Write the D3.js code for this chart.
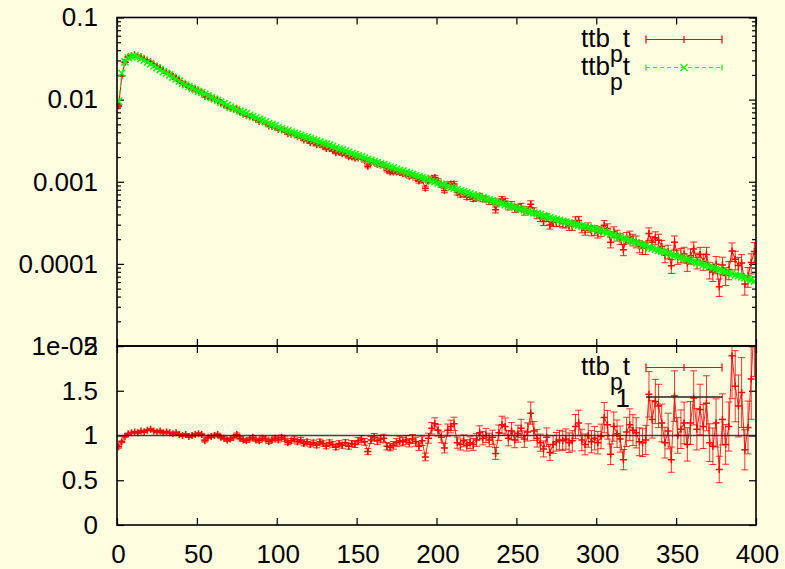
<!DOCTYPE html>
<html><head><meta charset="utf-8">
<script src="https://cdn.jsdelivr.net/npm/d3@7/dist/d3.min.js"></script>
<style>
body{margin:0;background:#fffde0;}
svg{display:block;}
text{font-family:"Liberation Sans",Arial,Helvetica,sans-serif;}
</style>
</head><body>
<svg id="chart" width="785" height="569"></svg>
<script>
// ---------------- data ----------------
const binCenters = [
1,3,5,7,9,11,13,15,17,19,21,23,25,27,29,31,33,35,37,39,
41,43,45,47,49,51,53,55,57,59,61,63,65,67,69,71,73,75,77,79,
81,83,85,87,89,91,93,95,97,99,101,103,105,107,109,111,113,115,117,119,
121,123,125,127,129,131,133,135,137,139,141,143,145,147,149,151,153,155,157,159,
161,163,165,167,169,171,173,175,177,179,181,183,185,187,189,191,193,195,197,199,
201,203,205,207,209,211,213,215,217,219,221,223,225,227,229,231,233,235,237,239,
241,243,245,247,249,251,253,255,257,259,261,263,265,267,269,271,273,275,277,279,
281,283,285,287,289,291,293,295,297,299,301,303,305,307,309,311,313,315,317,319,
321,323,325,327,329,331,333,335,337,339,341,343,345,347,349,351,353,355,357,359,
361,363,365,367,369,371,373,375,377,379,381,383,385,387,389,391,393,395,397,399];

// second ttb_pt series (green), per bin
const greenValues = [
9.55e-3,2.09e-2,2.88e-2,3.24e-2,3.35e-2,3.39e-2,3.31e-2,3.16e-2,3.02e-2,2.85e-2,
2.72e-2,2.57e-2,2.45e-2,2.32e-2,2.19e-2,2.09e-2,2.00e-2,1.88e-2,1.78e-2,1.68e-2,
1.585e-2,1.51e-2,1.445e-2,1.38e-2,1.32e-2,1.26e-2,1.22e-2,1.16e-2,1.11e-2,1.06e-2,
1.02e-2,9.77e-3,9.33e-3,8.91e-3,8.51e-3,8.13e-3,7.85e-3,7.59e-3,7.24e-3,7.00e-3,
6.76e-3,6.46e-3,6.24e-3,6.03e-3,5.75e-3,5.56e-3,5.37e-3,5.13e-3,4.96e-3,4.79e-3,
4.57e-3,4.42e-3,4.27e-3,4.17e-3,4.03e-3,3.89e-3,3.80e-3,3.67e-3,3.55e-3,3.47e-3,
3.35e-3,3.24e-3,3.16e-3,3.06e-3,2.95e-3,2.88e-3,2.79e-3,2.69e-3,2.60e-3,2.51e-3,
2.455e-3,2.37e-3,2.29e-3,2.21e-3,2.14e-3,2.065e-3,2.02e-3,1.95e-3,1.88e-3,1.82e-3,
1.76e-3,1.72e-3,1.66e-3,1.62e-3,1.57e-3,1.51e-3,1.48e-3,1.43e-3,1.38e-3,1.35e-3,
1.30e-3,1.27e-3,1.23e-3,1.19e-3,1.16e-3,1.12e-3,1.10e-3,1.06e-3,1.02e-3,1.00e-3,
9.66e-4,9.33e-4,9.12e-4,8.81e-4,8.51e-4,8.32e-4,8.04e-4,7.76e-4,7.59e-4,7.33e-4,
7.16e-4,6.92e-4,6.68e-4,6.53e-4,6.38e-4,6.17e-4,6.03e-4,5.89e-4,5.69e-4,5.56e-4,
5.43e-4,5.25e-4,5.13e-4,5.01e-4,4.90e-4,4.73e-4,4.62e-4,4.52e-4,4.37e-4,4.27e-4,
4.17e-4,4.07e-4,3.98e-4,3.85e-4,3.76e-4,3.67e-4,3.55e-4,3.47e-4,3.39e-4,3.31e-4,
3.24e-4,3.16e-4,3.09e-4,3.02e-4,2.95e-4,2.88e-4,2.85e-4,2.79e-4,2.72e-4,2.66e-4,
2.60e-4,2.54e-4,2.455e-4,2.40e-4,2.32e-4,2.24e-4,2.19e-4,2.11e-4,2.04e-4,2.00e-4,
1.93e-4,1.86e-4,1.82e-4,1.76e-4,1.70e-4,1.66e-4,1.60e-4,1.55e-4,1.51e-4,1.46e-4,
1.43e-4,1.38e-4,1.35e-4,1.30e-4,1.27e-4,1.23e-4,1.20e-4,1.16e-4,1.135e-4,1.10e-4,
1.07e-4,1.035e-4,1.01e-4,9.77e-5,9.55e-5,9.23e-5,9.02e-5,8.71e-5,8.51e-5,8.22e-5,
8.04e-5,7.76e-5,7.59e-5,7.33e-5,7.16e-5,6.92e-5,6.76e-5,6.53e-5,6.38e-5,6.17e-5];

// ratio ttb_pt (red) / ttb_pt (green), per bin
const ratioValues = [
0.875,0.93,0.99,1.02,1.03,1.04,1.03,1.05,1.04,1.06,
1.07,1.05,1.04,1.05,1.03,1.04,1.03,1.02,1.03,1.01,
1.00,1.01,0.99,1.00,1.01,1.02,1.01,0.94,0.98,0.99,
1.00,1.01,0.98,0.97,0.95,0.96,0.98,1.01,0.97,0.95,
0.94,0.96,0.98,0.95,0.94,0.97,0.96,0.93,0.95,0.97,
0.95,0.98,0.96,0.92,0.94,0.96,0.93,0.95,0.91,0.93,
0.90,0.92,0.89,0.93,0.91,0.88,0.92,0.90,0.87,0.91,
0.89,0.92,0.88,0.91,0.90,0.94,0.96,0.93,0.82,0.95,
0.98,0.94,0.96,0.97,0.88,0.87,0.89,0.92,0.94,0.93,
0.95,0.92,0.96,0.93,0.88,0.94,0.76,0.97,1.08,1.13,
1.06,0.98,0.86,1.06,1.10,1.13,0.92,0.90,0.94,0.89,
0.92,0.90,0.95,1.03,0.97,1.00,0.95,0.98,0.80,1.03,
1.12,1.10,0.97,1.05,0.95,1.02,1.08,0.96,1.04,1.25,
1.05,0.97,0.92,0.85,0.98,0.81,0.90,0.93,0.95,0.94,
0.96,0.92,0.94,1.10,1.14,0.95,0.90,1.00,0.93,0.97,
0.92,0.99,1.20,1.12,0.79,1.10,1.02,0.96,0.73,1.04,
1.12,1.06,1.03,0.93,0.92,0.95,1.46,1.18,1.38,1.33,
1.14,0.92,1.05,0.73,1.44,1.00,1.07,1.14,0.90,1.14,
1.42,1.07,1.29,1.10,1.36,0.92,0.88,1.14,0.62,1.18,
0.90,1.10,1.89,1.55,1.33,1.48,0.84,1.09,1.63,2.30];

// relative statistical error of the red series, percent
const relErrPct = [
2.0,1.2,0.9,0.8,0.8,0.8,0.8,0.8,0.8,0.9,
0.9,0.9,0.9,1.0,1.0,1.0,1.0,1.1,1.1,1.1,
1.2,1.2,1.2,1.3,1.3,1.3,1.4,1.4,1.4,1.5,
1.5,1.5,1.6,1.6,1.7,1.7,1.7,1.8,1.8,1.9,
1.9,2.0,2.0,2.0,2.1,2.1,2.2,2.2,2.3,2.3,
2.4,2.4,2.5,2.5,2.6,2.6,2.7,2.8,2.8,2.9,
2.9,3.0,3.0,3.1,3.2,3.2,3.3,3.4,3.4,3.5,
3.6,3.6,3.7,3.8,3.8,3.9,4.0,4.1,4.1,4.2,
4.3,4.4,4.4,4.5,4.6,4.7,4.8,4.9,5.0,5.0,
5.1,5.2,5.3,5.4,5.5,5.6,5.7,5.8,5.9,6.0,
6.1,6.2,6.3,6.4,6.5,6.6,6.8,6.9,7.0,7.1,
7.2,7.4,7.5,7.6,7.7,7.9,8.0,8.1,8.3,8.4,
8.5,8.7,8.8,9.0,9.1,9.3,9.4,9.6,9.7,9.9,
10.0,10.2,10.4,10.5,10.7,10.9,11.0,11.2,11.4,11.6,
11.8,11.9,12.1,12.3,12.5,12.7,12.9,13.1,13.3,13.5,
13.7,13.9,14.1,14.3,14.6,14.8,15.0,15.2,15.5,15.7,
15.9,16.2,16.4,16.7,16.9,17.2,17.4,17.7,17.9,18.2,
18.5,18.7,19.0,19.3,19.6,19.9,20.1,20.4,20.7,21.0,
21.3,21.6,21.9,22.3,22.6,22.9,23.2,23.6,23.9,24.2,
24.6,24.9,25.3,25.6,26.0,26.4,26.7,27.1,27.5,27.9];

const xTicks = [0,50,100,150,200,250,300,350,400];
const xTickLabels = ["0","50","100","150","200","250","300","350","400"];
const topYTicks = [0.1,0.01,0.001,0.0001,0.00001];
const topYLabels = ["0.1","0.01","0.001","0.0001","1e-05"];
const ratioTicks = [0,0.5,1,1.5,2];
const ratioLabels = ["0","0.5","1","1.5","2"];
const refLineValue = 1;
const legendTop = ["ttb","p","t"];
const legendBottom = [["ttb","p","t"],["1"]];

// ---------------- layout ----------------
const svg = d3.select("#chart");
const L = 117, R = 756, T1 = 17.5, B1 = 346, B2 = 525;
const FS = 26;
const RED = "#ff0000", GREEN = "#00ff00";

const x = d3.scaleLinear().domain([0,400]).range([L,R]);
const yTop = d3.scaleLog().domain([1e-5,0.1]).range([B1,T1]);
const yRat = d3.scaleLinear().domain([0,2]).range([B2,B1]);

const rows = binCenters.map((c,i)=>{
  const g = greenValues[i], r = ratioValues[i], e = relErrPct[i]/100;
  return {x:c, g:g, red:g*r, e:e, r:r};
});

const defs = svg.append("defs");
defs.append("clipPath").attr("id","clipTop").append("rect")
  .attr("x",L).attr("y",T1).attr("width",R-L).attr("height",B1-T1);
defs.append("clipPath").attr("id","clipBot").append("rect")
  .attr("x",L).attr("y",B1).attr("width",R-L).attr("height",B2-B1);

const plus = s => `M${-s},0H${s}M0,${-s}V${s}`;
const cross = s => `M${-s},${-s}L${s},${s}M${-s},${s}L${s},${-s}`;

// ---------------- axes ----------------
function styleAxis(g){
  g.select(".domain").remove();
  g.selectAll(".tick line").attr("stroke","#000").attr("stroke-width",1.2);
  g.selectAll("text").attr("font-size",FS).attr("fill","#000")
    .attr("font-family","'Liberation Sans',Arial,Helvetica,sans-serif");
}
const topMinor = yTop.ticks().filter(v => !topYTicks.some(t => Math.abs(Math.log10(v)-Math.log10(t))<1e-6));

// top panel
svg.append("g").attr("transform",`translate(${L},0)`)
  .call(d3.axisRight(yTop).tickValues(topYTicks).tickSize(7).tickFormat("")).call(styleAxis);
svg.append("g").attr("transform",`translate(${L},0)`)
  .call(d3.axisRight(yTop).tickValues(topMinor).tickSize(4).tickFormat("")).call(styleAxis);
svg.append("g").attr("transform",`translate(${R},0)`)
  .call(d3.axisLeft(yTop).tickValues(topYTicks).tickSize(7).tickFormat("")).call(styleAxis);
svg.append("g").attr("transform",`translate(${R},0)`)
  .call(d3.axisLeft(yTop).tickValues(topMinor).tickSize(4).tickFormat("")).call(styleAxis);
svg.append("g").attr("transform",`translate(${L},0)`)
  .call(d3.axisLeft(yTop).tickValues(topYTicks).tickSize(0).tickPadding(19)
    .tickFormat((d,i)=>topYLabels[i])).call(styleAxis);
svg.append("g").attr("transform",`translate(0,${T1})`)
  .call(d3.axisBottom(x).tickValues(xTicks).tickSize(7).tickFormat("")).call(styleAxis);
svg.append("g").attr("transform",`translate(0,${B1})`)
  .call(d3.axisTop(x).tickValues(xTicks).tickSize(7).tickFormat("")).call(styleAxis);

// bottom panel
svg.append("g").attr("transform",`translate(${L},0)`)
  .call(d3.axisRight(yRat).tickValues(ratioTicks).tickSize(7).tickFormat("")).call(styleAxis);
svg.append("g").attr("transform",`translate(${R},0)`)
  .call(d3.axisLeft(yRat).tickValues(ratioTicks).tickSize(7).tickFormat("")).call(styleAxis);
svg.append("g").attr("transform",`translate(${L},0)`)
  .call(d3.axisLeft(yRat).tickValues(ratioTicks).tickSize(0).tickPadding(19)
    .tickFormat((d,i)=>ratioLabels[i])).call(styleAxis);
svg.append("g").attr("transform",`translate(0,${B1})`)
  .call(d3.axisBottom(x).tickValues(xTicks).tickSize(7).tickFormat("")).call(styleAxis);
svg.append("g").attr("transform",`translate(0,${B2})`)
  .call(d3.axisTop(x).tickValues(xTicks).tickSize(7).tickFormat("")).call(styleAxis);
svg.append("g").attr("transform",`translate(1,${B2})`)
  .call(d3.axisBottom(x).tickValues(xTicks).tickSize(0).tickPadding(20)
    .tickFormat((d,i)=>xTickLabels[i])).call(styleAxis);

// ---------------- top panel data ----------------
const gTop = svg.append("g").attr("clip-path","url(#clipTop)");
const redTop = gTop.append("g");
const capW = 3.5;
redTop.selectAll("path.eb").data(rows).join("path").attr("class","eb")
  .attr("d",d=>{
    const xx = x(d.x), y0 = yTop(d.red*(1-d.e)), y1 = yTop(d.red*(1+d.e));
    return `M${xx},${y0}V${y1}M${xx-capW},${y0}H${xx+capW}M${xx-capW},${y1}H${xx+capW}`;
  })
  .attr("stroke",RED).attr("stroke-width",1).attr("fill","none").attr("opacity",0.85);
redTop.append("path").datum(rows)
  .attr("d",d3.line().x(d=>x(d.x)).y(d=>yTop(d.red)))
  .attr("stroke",RED).attr("stroke-width",1).attr("fill","none");
redTop.selectAll("path.pt").data(rows).join("path").attr("class","pt")
  .attr("transform",d=>`translate(${x(d.x)},${yTop(d.red)})`)
  .attr("d",plus(3.5)).attr("stroke",RED).attr("stroke-width",1.5);

const greenTop = gTop.append("g");
greenTop.append("path").datum(rows)
  .attr("d",d3.line().x(d=>x(d.x)).y(d=>yTop(d.g)))
  .attr("stroke",GREEN).attr("stroke-width",1).attr("stroke-dasharray","4,3").attr("fill","none");
greenTop.selectAll("path.pt").data(rows).join("path").attr("class","pt")
  .attr("transform",d=>`translate(${x(d.x)},${yTop(d.g)})`)
  .attr("d",cross(3.5)).attr("stroke",GREEN).attr("stroke-width",1.5);

// ---------------- bottom panel data ----------------
const gBot = svg.append("g").attr("clip-path","url(#clipBot)");
gBot.selectAll("path.eb").data(rows).join("path").attr("class","eb")
  .attr("d",d=>{
    const xx = x(d.x), y0 = yRat(d.r*(1-d.e)), y1 = yRat(d.r*(1+d.e));
    return `M${xx},${y0}V${y1}M${xx-capW},${y0}H${xx+capW}M${xx-capW},${y1}H${xx+capW}`;
  })
  .attr("stroke",RED).attr("stroke-width",1).attr("fill","none").attr("opacity",0.8);
gBot.append("path").datum(rows)
  .attr("d",d3.line().x(d=>x(d.x)).y(d=>yRat(d.r)))
  .attr("stroke",RED).attr("stroke-width",1).attr("fill","none").attr("opacity",0.85);
gBot.selectAll("path.pt").data(rows).join("path").attr("class","pt")
  .attr("transform",d=>`translate(${x(d.x)},${yRat(d.r)})`)
  .attr("d",plus(3.5)).attr("stroke",RED).attr("stroke-width",1.5);
gBot.append("line")
  .attr("x1",x(0)).attr("x2",x(400)).attr("y1",yRat(refLineValue)).attr("y2",yRat(refLineValue))
  .attr("stroke","#222").attr("stroke-width",1.6).attr("opacity",0.85);

// ---------------- frames ----------------
svg.append("rect").attr("x",L).attr("y",T1).attr("width",R-L).attr("height",B1-T1)
  .attr("fill","none").attr("stroke","#000").attr("stroke-width",1.6);
svg.append("rect").attr("x",L).attr("y",B1).attr("width",R-L).attr("height",B2-B1)
  .attr("fill","none").attr("stroke","#000").attr("stroke-width",1.6);

// ---------------- legends ----------------
const TX = 630, SX0 = 646, SX1 = 722, SXM = 684;
function subLabel(y, parts){
  const t = svg.append("text").attr("x",TX).attr("y",y).attr("text-anchor","end")
    .attr("font-size",FS).attr("fill","#000");
  t.append("tspan").text(parts[0]);
  t.append("tspan").attr("dy",15).attr("font-size",23).text(parts[1]);
  t.append("tspan").attr("dy",-15).text(parts[2]);
}
function redSample(y){
  svg.append("path").attr("d",`M${SX0},${y}H${SX1}M${SX0},${y-4}V${y+4}M${SX1},${y-4}V${y+4}`)
    .attr("stroke",RED).attr("stroke-width",1.2).attr("fill","none");
  svg.append("path").attr("transform",`translate(${SXM},${y})`).attr("d",plus(3.5))
    .attr("stroke",RED).attr("stroke-width",1.2);
}
// top legend
subLabel(46.5, legendTop);
redSample(39.5);
subLabel(74.5, legendTop);
svg.append("path").attr("d",`M${SX0},67.5H${SX1}`).attr("stroke",GREEN)
  .attr("stroke-width",1.2).attr("stroke-dasharray","4,3");
svg.append("path").attr("d",`M${SX0},64.5V70.5M${SX1},64.5V70.5`).attr("stroke",GREEN).attr("stroke-width",1.2);
svg.append("path").attr("transform",`translate(${SXM},67.5)`).attr("d",cross(3.5))
  .attr("stroke",GREEN).attr("stroke-width",1.2);
// bottom legend
subLabel(375, legendBottom[0]);
redSample(367.5);
svg.append("text").attr("x",TX).attr("y",406.5).attr("text-anchor","end")
  .attr("font-size",FS).attr("fill","#000").text(legendBottom[1][0]);
svg.append("line").attr("x1",SX0).attr("x2",SX1).attr("y1",397).attr("y2",397)
  .attr("stroke","#222").attr("stroke-width",1.6);
</script>
</body></html>
